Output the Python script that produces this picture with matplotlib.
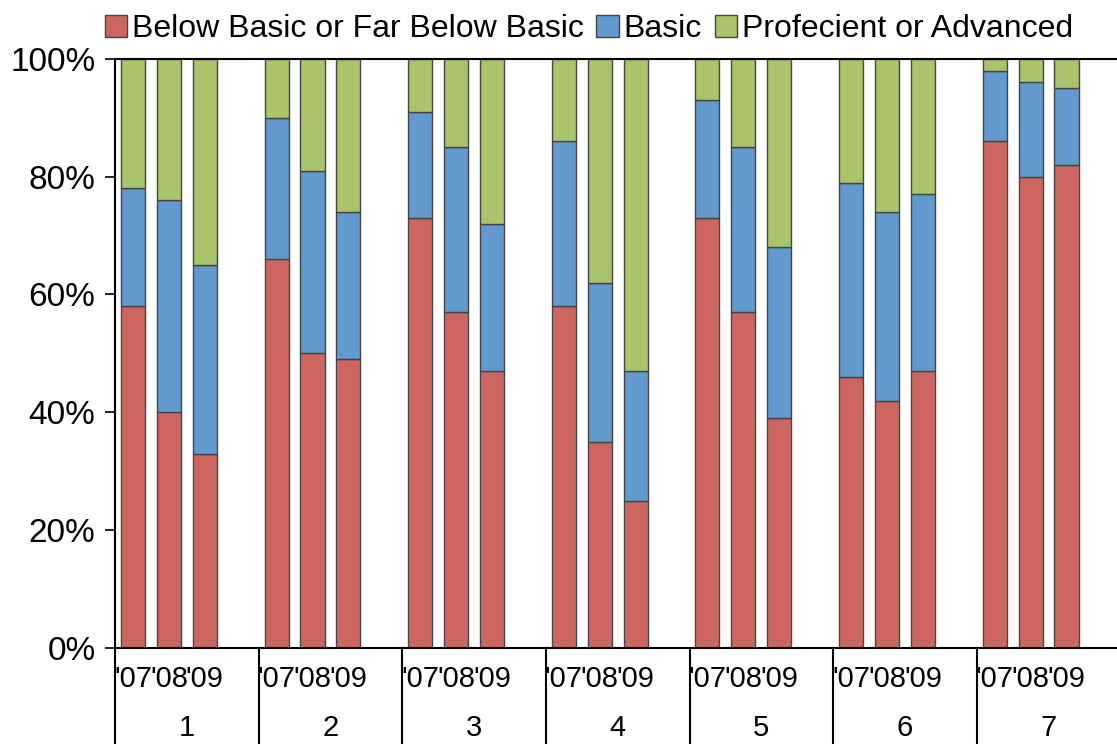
import matplotlib
matplotlib.use('Agg')
import matplotlib.pyplot as plt
import numpy as np
from matplotlib.patches import Patch

plt.rcParams['font.family'] = ['Liberation Sans', 'DejaVu Sans']

groups = ['1', '2', '3', '4', '5', '6', '7']
years = ["'07", "'08", "'09"]
# per group: '07, '08, '09 (percent)
below = [58, 40, 33, 66, 50, 49, 73, 57, 47, 58, 35, 25, 73, 57, 39, 46, 42, 47, 86, 80, 82]
basic = [20, 36, 32, 24, 31, 25, 18, 28, 25, 28, 27, 22, 20, 28, 29, 33, 32, 30, 12, 16, 13]
prof = [22, 24, 35, 10, 19, 26, 9, 15, 28, 14, 38, 53, 7, 15, 32, 21, 26, 23, 2, 4, 5]
series_names = ['Below Basic or Far Below Basic', 'Basic', 'Profecient or Advanced']
colors = ['#CD6660', '#6299CE', '#A9C46B']

fig = plt.figure(figsize=(11.17, 7.44), dpi=100)
ax = fig.add_axes([0.103, 0.129, 0.9, 0.792])

x = np.array([g * 4 + j + 0.5 for g in range(len(groups)) for j in range(len(years))])
below = np.array(below)
basic = np.array(basic)
prof = np.array(prof)
w = 0.67
ax.bar(x, below, w, color=colors[0], edgecolor='#444444', linewidth=1)
ax.bar(x, basic, w, bottom=below, color=colors[1], edgecolor='#444444', linewidth=1)
ax.bar(x, prof, w, bottom=below + basic, color=colors[2], edgecolor='#444444', linewidth=1)

ax.set_xlim(0, 28)
ax.set_ylim(0, 100)
ax.set_yticks([0, 20, 40, 60, 80, 100])
ax.set_yticklabels(['0%', '20%', '40%', '60%', '80%', '100%'], fontsize=24)
ax.tick_params(axis='y', length=7, width=1.2, pad=7)
ax.set_xticks([])
ax.spines['right'].set_visible(False)
for s in ['left', 'bottom', 'top']:
    ax.spines[s].set_linewidth(1.5)

trans = ax.get_xaxis_transform()
for xi, lab in zip(x, years * len(groups)):
    ax.text(xi, -0.053, lab, transform=trans, ha='center', va='center', fontsize=21)
for g, name in enumerate(groups):
    ax.text(g * 4 + 2, -0.135, name, transform=trans, ha='center', va='center', fontsize=21)
for g in range(len(groups) + 1):
    ax.plot([g * 4, g * 4], [0, -0.2], transform=trans, color='black', lw=1.5, clip_on=False)

handles = [Patch(facecolor=c, edgecolor='#444444', label=n) for c, n in zip(colors, series_names)]
fig.legend(handles=handles, loc='upper center', bbox_to_anchor=(0.527, 1.02), ncol=3,
           frameon=False, fontsize=23, handlelength=0.7, handleheight=0.7,
           handletextpad=0.15, columnspacing=0.4)

fig.savefig('out.png', dpi=100)
